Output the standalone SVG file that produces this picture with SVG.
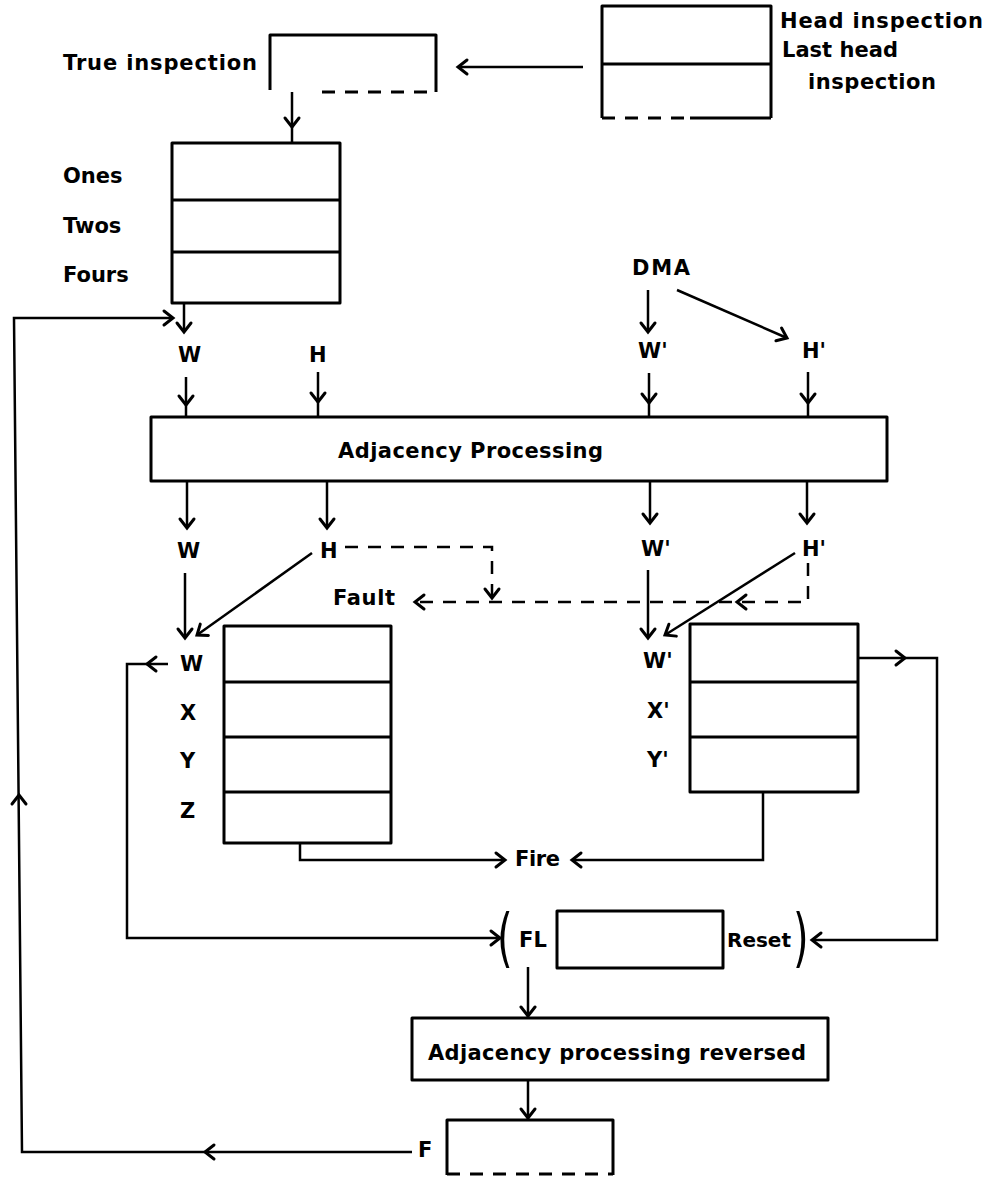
<svg xmlns="http://www.w3.org/2000/svg" width="999" height="1177" viewBox="0 0 999 1177">
<style>
.box{fill:none;stroke:#000;stroke-width:3;stroke-linejoin:round}
.ln{fill:none;stroke:#000;stroke-width:2.5;stroke-linejoin:miter}
.ah{fill:none;stroke:#000;stroke-width:3;stroke-linejoin:miter;stroke-linecap:round}
.dash{stroke-dasharray:13 10}
.t{font-family:"DejaVu Sans","Liberation Sans",sans-serif;font-weight:bold;font-size:21px;fill:#000}
.s{font-size:20px}
.p{font-family:"DejaVu Sans","Liberation Sans",sans-serif;font-weight:normal;font-size:40px;fill:#000}
</style>
<defs>
<path id="ah" class="ah" d="M-7,-9 L0,0 L7,-9"/>
</defs>
<rect width="999" height="1177" fill="#fff"/>

<g id="true-inspection">
<path class="box" d="M270,90 V35 H436 V92"/>
<path class="box dash" d="M322,92 H436"/>
<text class="t" x="63" y="70" textLength="194">True inspection</text>
</g>

<g id="head-inspection">
<path class="box" d="M602,118 V6 H771 V118 M602,64 H771 M690,118 H771"/>
<path class="box dash" d="M602,118 H690"/>
<text class="t" x="780" y="28" textLength="203">Head inspection</text>
<text class="t" x="782" y="57" textLength="116">Last head</text>
<text class="t" x="808" y="89" textLength="128">inspection</text>
</g>

<g id="ones-twos-fours">
<rect class="box" x="172" y="143" width="168" height="160"/>
<path class="box" d="M172,200 H340 M172,252 H340"/>
<text class="t" x="63" y="183">Ones</text>
<text class="t" x="63" y="233">Twos</text>
<text class="t" x="63" y="282">Fours</text>
</g>

<g id="dma"><text class="t" x="632" y="275" textLength="58">DMA</text></g>
<g id="w-in"><text class="t" x="178" y="362">W</text></g>
<g id="h-in"><text class="t" x="309" y="362">H</text></g>
<g id="w-prime-in"><text class="t" x="638" y="358">W'</text></g>
<g id="h-prime-in"><text class="t" x="802" y="358">H'</text></g>

<g id="adjacency-processing">
<rect class="box" x="151" y="417" width="736" height="64"/>
<text class="t" x="338" y="458" textLength="265">Adjacency Processing</text>
</g>

<g id="w-out"><text class="t" x="177" y="558">W</text></g>
<g id="h-out"><text class="t" x="320" y="558">H</text></g>
<g id="w-prime-out"><text class="t" x="641" y="556">W'</text></g>
<g id="h-prime-out"><text class="t" x="802" y="556">H'</text></g>
<g id="fault"><text class="t" x="333" y="605" textLength="62">Fault</text></g>

<g id="stack-wxyz">
<rect class="box" x="224" y="626" width="167" height="217"/>
<path class="box" d="M224,682 H391 M224,737 H391 M224,792 H391"/>
<text class="t" x="180" y="671">W</text>
<text class="t" x="180" y="720">X</text>
<text class="t" x="180" y="768">Y</text>
<text class="t" x="180" y="818">Z</text>
</g>

<g id="stack-wxy-prime">
<rect class="box" x="690" y="624" width="168" height="168"/>
<path class="box" d="M690,682 H858 M690,737 H858"/>
<text class="t" x="643" y="668">W'</text>
<text class="t" x="647" y="718">X'</text>
<text class="t" x="647" y="767">Y'</text>
</g>

<g id="fire"><text class="t" x="515" y="866" textLength="45">Fire</text></g>

<g id="fl-reset">
<text class="p" transform="translate(497,960) scale(1,1.6)">(</text>
<text class="t" x="519" y="947" textLength="28">FL</text>
<rect class="box" x="557" y="911" width="166" height="57"/>
<text class="t s" x="727" y="947">Reset</text>
<text class="p" transform="translate(793,960) scale(1,1.6)">)</text>
</g>

<g id="adjacency-reversed">
<rect class="box" x="412" y="1018" width="416" height="62"/>
<text class="t" x="428" y="1060" textLength="378">Adjacency processing reversed</text>
</g>

<g id="f-box">
<text class="t" x="418" y="1157">F</text>
<path class="box" d="M447,1175 V1120 H613 V1175"/>
<path class="box dash" d="M447,1174 H613"/>
</g>

<g id="connectors">
<path class="ln" d="M583,67 H458"/><use href="#ah" transform="translate(458,67) rotate(90)"/>
<path class="ln" d="M292,92 V143"/><use href="#ah" transform="translate(292,127)"/>
<path class="ln" d="M184,303 V332"/><use href="#ah" transform="translate(184,332)"/>
<path class="ln" d="M412,1152 H22 L14,318 H173"/>
<use href="#ah" transform="translate(173,318) rotate(-90)"/>
<use href="#ah" transform="translate(205,1152) rotate(90)"/>
<use href="#ah" transform="translate(19,795) rotate(180)"/>
<path class="ln" d="M186,377 V416"/><use href="#ah" transform="translate(186,405)"/>
<path class="ln" d="M318,372 V416"/><use href="#ah" transform="translate(318,402)"/>
<path class="ln" d="M648,290 V332"/><use href="#ah" transform="translate(648,332)"/>
<path class="ln" d="M677,290 L787,338"/><use href="#ah" transform="translate(787,338) rotate(-66.4)"/>
<path class="ln" d="M649,373 V416"/><use href="#ah" transform="translate(649,403)"/>
<path class="ln" d="M808,372 V416"/><use href="#ah" transform="translate(808,403)"/>
<path class="ln" d="M187,481 V528"/><use href="#ah" transform="translate(187,528)"/>
<path class="ln" d="M327,481 V528"/><use href="#ah" transform="translate(327,528)"/>
<path class="ln" d="M650,481 V523"/><use href="#ah" transform="translate(650,523)"/>
<path class="ln" d="M807,481 V523"/><use href="#ah" transform="translate(807,523)"/>
<path class="ln" d="M185,573 V638"/><use href="#ah" transform="translate(185,638)"/>
<path class="ln" d="M312,553 L197,635"/><use href="#ah" transform="translate(197,635) rotate(54.5)"/>
<path class="ln" d="M648,570 V638"/><use href="#ah" transform="translate(648,638)"/>
<path class="ln" d="M795,553 L665,635"/><use href="#ah" transform="translate(665,635) rotate(57.8)"/>
<path class="ln dash" d="M345,547 H492 V598"/><use href="#ah" transform="translate(492,598)"/>
<path class="ln dash" d="M808,563 V602 H415"/>
<use href="#ah" transform="translate(737,602) rotate(90)"/>
<use href="#ah" transform="translate(415,602) rotate(90)"/>
<path class="ln" d="M168,664 H127 V938 H500"/>
<use href="#ah" transform="translate(147,664) rotate(90)"/>
<use href="#ah" transform="translate(500,938) rotate(-90)"/>
<path class="ln" d="M300,843 V860 H505"/><use href="#ah" transform="translate(505,860) rotate(-90)"/>
<path class="ln" d="M763,792 V860 H572"/><use href="#ah" transform="translate(572,860) rotate(90)"/>
<path class="ln" d="M858,658 H937 V940 H812"/>
<use href="#ah" transform="translate(905,658) rotate(-90)"/>
<use href="#ah" transform="translate(812,940) rotate(90)"/>
<path class="ln" d="M528,967 V1018"/><use href="#ah" transform="translate(528,1016)"/>
<path class="ln" d="M528,1080 V1120"/><use href="#ah" transform="translate(528,1118)"/>
</g>
</svg>
